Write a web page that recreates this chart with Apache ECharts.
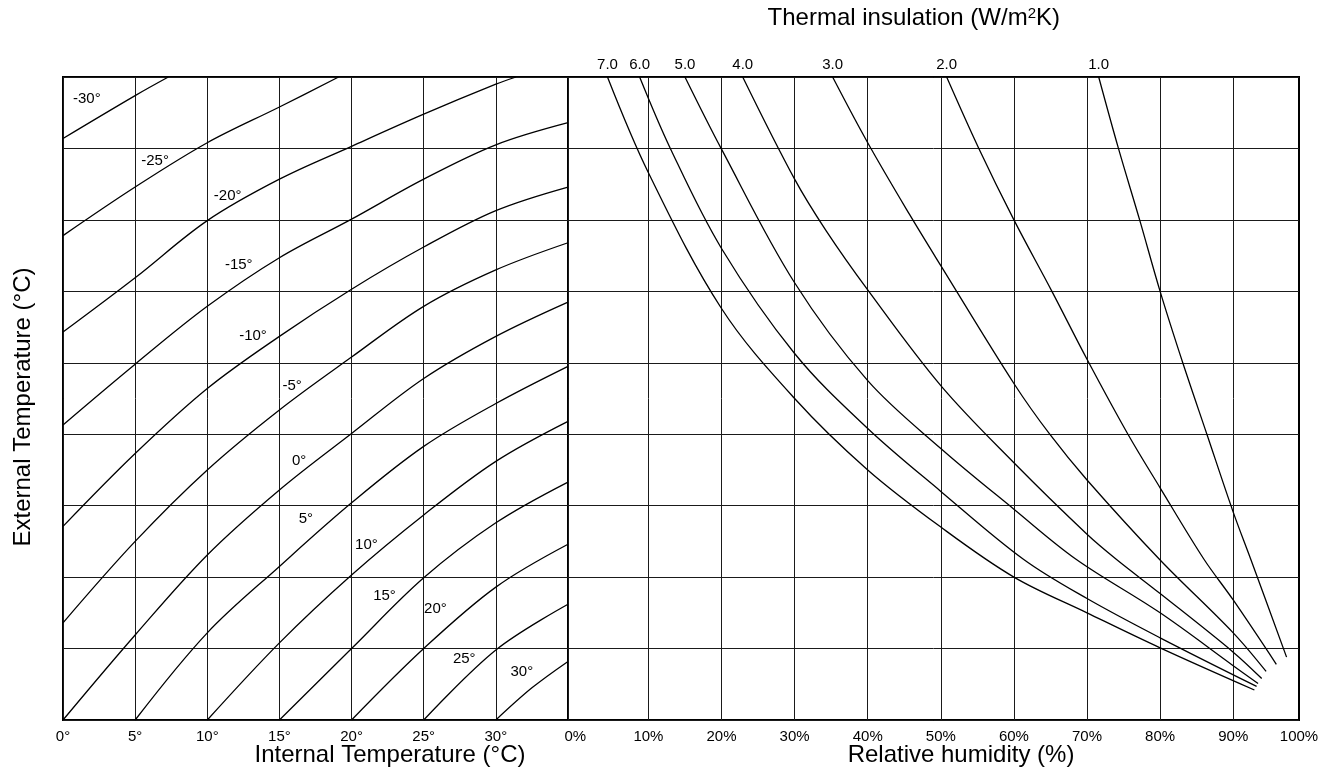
<!DOCTYPE html>
<html>
<head>
<meta charset="utf-8">
<title>Condensation chart</title>
<script src="https://cdn.jsdelivr.net/npm/echarts@6.0.0/dist/echarts.min.js"></script>
<style>
  html, body { margin: 0; padding: 0; background: #fff; }
  #chart { width: 1319px; height: 773px; }
</style>
</head>
<body>
<div id="chart"></div>
<script>
// left panel: one curve per external temperature, points are [internal temp (°C), scale 0-9]
const externalTemps = [-30, -25, -20, -15, -10, -5, 0, 5, 10, 15, 20, 25, 30];
const extM30 = [[0, 8.14], [5, 8.74], [7.3, 9]];
const extM25 = [[0, 6.78], [5, 7.46], [10, 8.08], [15, 8.58], [19.1, 9]];
const extM20 = [[0, 5.43], [5, 6.19], [10, 6.99], [15, 7.57], [20, 8.03], [25, 8.48], [30, 8.9], [31.4, 9]];
const extM15 = [[0, 4.13], [5, 4.98], [10, 5.79], [15, 6.47], [20, 7.01], [25, 7.57], [30, 8.05], [35, 8.36]];
const extM10 = [[0, 2.71], [5, 3.73], [10, 4.64], [15, 5.37], [20, 6.03], [25, 6.62], [30, 7.13], [35, 7.46]];
const extM5 = [[0, 1.36], [5, 2.5], [10, 3.5], [15, 4.34], [20, 5.08], [25, 5.79], [30, 6.3], [35, 6.68]];
const ext0 = [[0, 0], [5, 1.19], [10, 2.31], [15, 3.22], [20, 4.01], [25, 4.78], [30, 5.37], [35, 5.85]];
const ext5 = [[5, 0], [10, 1.22], [15, 2.15], [20, 3.04], [25, 3.83], [30, 4.43], [35, 4.95]];
const ext10 = [[10, 0], [15, 1.08], [20, 2.03], [25, 2.87], [30, 3.62], [35, 4.18]];
const ext15 = [[15, 0], [20, 1.0], [25, 1.99], [30, 2.76], [35, 3.33]];
const ext20 = [[20, 0], [25, 1.0], [30, 1.86], [35, 2.46]];
const ext25 = [[25, 0], [30, 0.98], [35, 1.62]];
const ext30 = [[30, 0], [32.5, 0.45], [35, 0.82]];
const extCurves = [extM30, extM25, extM20, extM15, extM10, extM5, ext0, ext5, ext10, ext15, ext20, ext25, ext30];

// right panel: one curve per thermal insulation value, points are [relative humidity (%), scale 0-9]
const uValues = ['7.0', '6.0', '5.0', '4.0', '3.0', '2.0', '1.0'];
const u70 = [[4.4, 9], [10, 7.66], [20, 5.76], [30, 4.5], [40, 3.5], [50, 2.7], [60, 2.0], [70, 1.5], [80, 1.01], [92.9, 0.42]];
const u60 = [[8.8, 9], [13.0, 8.0], [20, 6.6], [30, 5.13], [40, 4.08], [50, 3.2], [61.3, 2.25], [70, 1.7], [80, 1.15], [93.2, 0.47]];
const u50 = [[15.0, 9], [20, 7.99], [30, 6.12], [40, 4.75], [50, 3.8], [60, 2.95], [68.5, 2.25], [80, 1.5], [90, 0.76], [93.4, 0.51]];
const u40 = [[22.9, 9], [30, 7.57], [34.3, 6.85], [40, 6.02], [50, 4.68], [60, 3.6], [70, 2.6], [74.0, 2.25], [80, 1.77], [90, 0.95], [93.9, 0.58]];
const u30 = [[35.2, 9], [40, 8.08], [45.7, 7.08], [50, 6.36], [60, 4.71], [64.9, 4.0], [70, 3.36], [80, 2.24], [90, 1.22], [94.5, 0.68]];
const u20 = [[50.8, 9], [55.2, 8.0], [60, 7.0], [65.2, 6.0], [70, 5.05], [75.6, 4.0], [80, 3.25], [86.0, 2.25], [90, 1.68], [95.9, 0.78]];
const u10 = [[71.6, 9], [74.3, 8.0], [77.2, 7.0], [80, 6.0], [83.1, 5.0], [86.4, 4.0], [90, 2.91], [92.4, 2.25], [97.3, 0.88]];
const uCurves = [u70, u60, u50, u40, u30, u20, u10];

// axis ticks
const tempTicks = [0, 5, 10, 15, 20, 25, 30];
const rhTicks = [0, 10, 20, 30, 40, 50, 60, 70, 80, 90, 100];

var chartDom = document.getElementById('chart');
var myChart = echarts.init(chartDom);

// where the temperature names sit, in data units of the left panel
var extLabelAt = [[1.65, 8.69], [6.38, 7.83], [11.41, 7.34], [12.18, 6.37], [13.17, 5.38], [15.88, 4.67],
  [16.36, 3.63], [16.83, 2.82], [21.03, 2.45], [22.28, 1.74], [25.81, 1.56], [27.81, 0.85], [31.8, 0.68]];

var RH_MIN = -1, RH_MAX = 99;   // the humidity scale of the drawing is a little offset from the frame
var ink = '#000';
var gridLine = { show: true, lineStyle: { color: '#1a1a1a', width: 1 } };

function curve(pts, xi, label) {
  return {
    type: 'line', xAxisIndex: xi, yAxisIndex: xi,
    data: pts, symbol: 'none', smooth: 0.35,
    lineStyle: { color: ink, width: 1.3 },
    markPoint: {
      symbol: 'circle', symbolSize: 0, silent: true,
      label: label,
      data: [{ coord: xi === 0 ? label.at : pts[0] }]
    }
  };
}

var leftSeries = extCurves.map(function (pts, i) {
  return curve(pts, 0, { show: true, position: 'inside', color: ink, fontSize: 15,
    formatter: externalTemps[i] + '°', at: extLabelAt[i] });
});

var rightSeries = uCurves.map(function (pts, i) {
  return curve(pts, 1, { show: true, position: 'top', distance: 5, color: ink, fontSize: 15,
    formatter: uValues[i] });
});

var option = {
  animation: false,
  textStyle: { fontFamily: 'Liberation Sans, Arial, sans-serif', color: ink },
  title: {
    text: 'Thermal insulation (W/m{sup|2}K)',
    right: 259, top: 6, padding: 0,
    textStyle: {
      fontSize: 24, fontWeight: 'normal', color: ink,
      rich: { sup: { fontSize: 15, verticalAlign: 'top', color: ink } }
    }
  },
  grid: [
    { left: 63, top: 77, width: 505, height: 643, outerBoundsMode: 'none', containLabel: false,
      show: true, borderColor: ink, borderWidth: 2 },
    { left: 568, top: 77, width: 731, height: 643, outerBoundsMode: 'none', containLabel: false,
      show: true, borderColor: ink, borderWidth: 2 }
  ],
  xAxis: [
    {
      gridIndex: 0, type: 'value', min: 0, max: 35, interval: 5,
      axisLine: { show: false }, axisTick: { show: false },
      axisLabel: { customValues: tempTicks, formatter: '{value}°', color: ink, fontSize: 15, margin: 9 },
      splitLine: gridLine,
      name: 'Internal Temperature (°C)', nameLocation: 'middle', nameGap: 23, nameMoveOverlap: false,
      nameTextStyle: { fontSize: 24, color: ink, padding: [0, 0, 0, 149] }
    },
    {
      gridIndex: 1, type: 'value', min: RH_MIN, max: RH_MAX,
      axisLine: { show: false },
      axisTick: { show: false, customValues: rhTicks.slice(1, -1) },
      axisLabel: {
        customValues: rhTicks.slice(0, -1).concat([RH_MAX]),
        formatter: function (v) { return (v === RH_MAX ? rhTicks[rhTicks.length - 1] : v) + '%'; },
        color: ink, fontSize: 15, margin: 9
      },
      splitLine: gridLine,
      name: 'Relative humidity (%)', nameLocation: 'middle', nameGap: 23, nameMoveOverlap: false,
      nameTextStyle: { fontSize: 24, color: ink, padding: [0, 0, 0, 55] }
    }
  ],
  yAxis: [
    {
      gridIndex: 0, type: 'value', min: 0, max: 9, interval: 1,
      axisLine: { show: false }, axisTick: { show: false }, axisLabel: { show: false },
      splitLine: gridLine,
      name: 'External Temperature (°C)', nameLocation: 'middle', nameGap: 28,
      nameTextStyle: { fontSize: 24, color: ink, padding: [0, 17, 0, 0] }
    },
    {
      gridIndex: 1, type: 'value', min: 0, max: 9, interval: 1,
      axisLine: { show: false }, axisTick: { show: false }, axisLabel: { show: false },
      splitLine: gridLine
    }
  ],
  series: leftSeries.concat(rightSeries)
};

option && myChart.setOption(option);
</script>
</body>
</html>
